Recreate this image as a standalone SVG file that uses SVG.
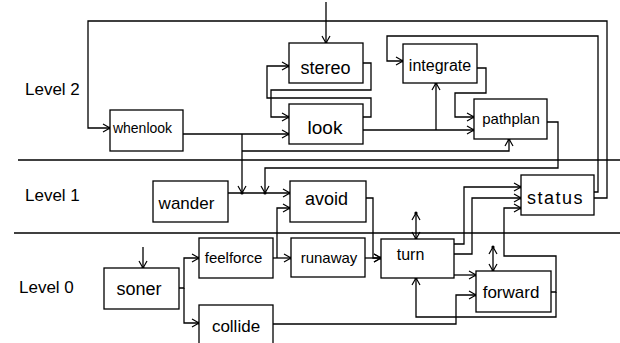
<svg xmlns="http://www.w3.org/2000/svg" width="620" height="343" viewBox="0 0 620 343">
<style>
.box{fill:#fff;stroke:#000;stroke-width:1.3}
.lbl{font-family:"Liberation Sans",Arial,sans-serif;fill:#000;text-anchor:middle}
.lvl{font-family:"Liberation Sans",Arial,sans-serif;fill:#000;font-size:17px}
.c{fill:none;stroke:#000;stroke-width:1.3}
.a{marker-end:url(#ah)}
.d{marker-start:url(#ah);marker-end:url(#ah)}
</style>
<defs>
<marker id="ah" viewBox="-9 -6 11 12" refX="0" refY="0" markerWidth="11" markerHeight="12" markerUnits="userSpaceOnUse" orient="auto-start-reverse">
<path d="M-7,-4 L0,0 L-7,4" fill="none" stroke="#000" stroke-width="1.2"/>
<circle cx="0" cy="0" r="1.6" fill="#000"/>
</marker>
</defs>
<rect width="620" height="343" fill="#fff"/>
<g id="dividers" stroke="#000" stroke-width="1.3">
<line x1="18" y1="160" x2="620" y2="160"/>
<line x1="14" y1="233" x2="620" y2="233"/>
</g>
<g id="levels">
<text class="lvl" x="25" y="95">Level 2</text>
<text class="lvl" x="25" y="201">Level 1</text>
<text class="lvl" x="19" y="293">Level 0</text>
</g>
<g id="connectors">
<path class="c a" d="M326,2 V43"/>
<path class="c a" d="M594,198 H607 V21 H88 V128 H110"/>
<path class="c a" d="M594,192 H598 V36 H387 V61 H403"/>
<path class="c a" d="M363,63 H371 V90 H271 V117 H289"/>
<path class="c a" d="M363,117 H371 V98 H267 V66 H289"/>
<path class="c a" d="M183,134 H289"/>
<path class="c a" d="M242,134 V193"/>
<path class="c a" d="M242,151 H509 V139"/>
<path class="c a" d="M363,130 H474"/>
<path class="c a" d="M436,130 V83"/>
<path class="c a" d="M477,68 H486 V93 H455 V117 H474"/>
<path class="c a" d="M547,122 H558 V168 H265 V193"/>
<path class="c a" d="M228,193 H290"/>
<path class="c a" d="M273,258 H291"/>
<path class="c a" d="M277,258 V208 H290"/>
<path class="c a" d="M366,198 H373 V258 H381"/>
<path class="c a" d="M365,258 H381"/>
<path class="c d" d="M416,213 V239"/>
<path class="c a" d="M454,244 H464 V187 H521"/>
<path class="c a" d="M454,254 H472 V198 H521"/>
<path class="c a" d="M551,292 H556 V256 H504 V208 H521"/>
<path class="c a" d="M556,292 V317 H416 V278"/>
<path class="c a" d="M454,275 H476"/>
<path class="c a" d="M273,324 H456 V295 H476"/>
<path class="c d" d="M493,247 V271"/>
<path class="c a" d="M143,247 V268"/>
<path class="c a" d="M179,288 H184 V258 H199"/>
<path class="c a" d="M184,288 V323 H199"/>
</g>
<g id="stereo"><rect class="box" x="289" y="43" width="74" height="40"/><text class="lbl" x="325.5" y="74" font-size="18">stereo</text></g>
<g id="look"><rect class="box" x="289" y="104" width="74" height="40"/><text class="lbl" x="325" y="134" font-size="19">look</text></g>
<g id="integrate"><rect class="box" x="403" y="44" width="74" height="39"/><text class="lbl" x="440" y="71" font-size="16">integrate</text></g>
<g id="pathplan"><rect class="box" x="474" y="99" width="73" height="40"/><text class="lbl" x="511" y="124" font-size="15">pathplan</text></g>
<g id="whenlook"><rect class="box" x="110" y="110" width="73" height="41"/><text class="lbl" x="142.5" y="133" font-size="14">whenlook</text></g>
<g id="wander"><rect class="box" x="153" y="181" width="75" height="41"/><text class="lbl" x="186.5" y="209" font-size="17">wander</text></g>
<g id="avoid"><rect class="box" x="290" y="181" width="76" height="41"/><text class="lbl" x="326.5" y="205" font-size="18">avoid</text></g>
<g id="status"><rect class="box" x="521" y="175" width="73" height="40"/><text class="lbl" x="555.5" y="204" font-size="18" letter-spacing="1.5">status</text></g>
<g id="feelforce"><rect class="box" x="199" y="238" width="74" height="40"/><text class="lbl" x="233.5" y="263" font-size="15">feelforce</text></g>
<g id="runaway"><rect class="box" x="291" y="238" width="74" height="39"/><text class="lbl" x="329" y="263" font-size="15">runaway</text></g>
<g id="turn"><rect class="box" x="381" y="239" width="73" height="39"/><text class="lbl" x="410.5" y="260" font-size="16">turn</text></g>
<g id="forward"><rect class="box" x="476" y="271" width="75" height="41"/><text class="lbl" x="511" y="298" font-size="17">forward</text></g>
<g id="soner"><rect class="box" x="104" y="268" width="75" height="41"/><text class="lbl" x="139" y="295" font-size="18">soner</text></g>
<g id="collide"><rect class="box" x="199" y="305" width="74" height="45"/><text class="lbl" x="236" y="332" font-size="17">collide</text></g>
</svg>
